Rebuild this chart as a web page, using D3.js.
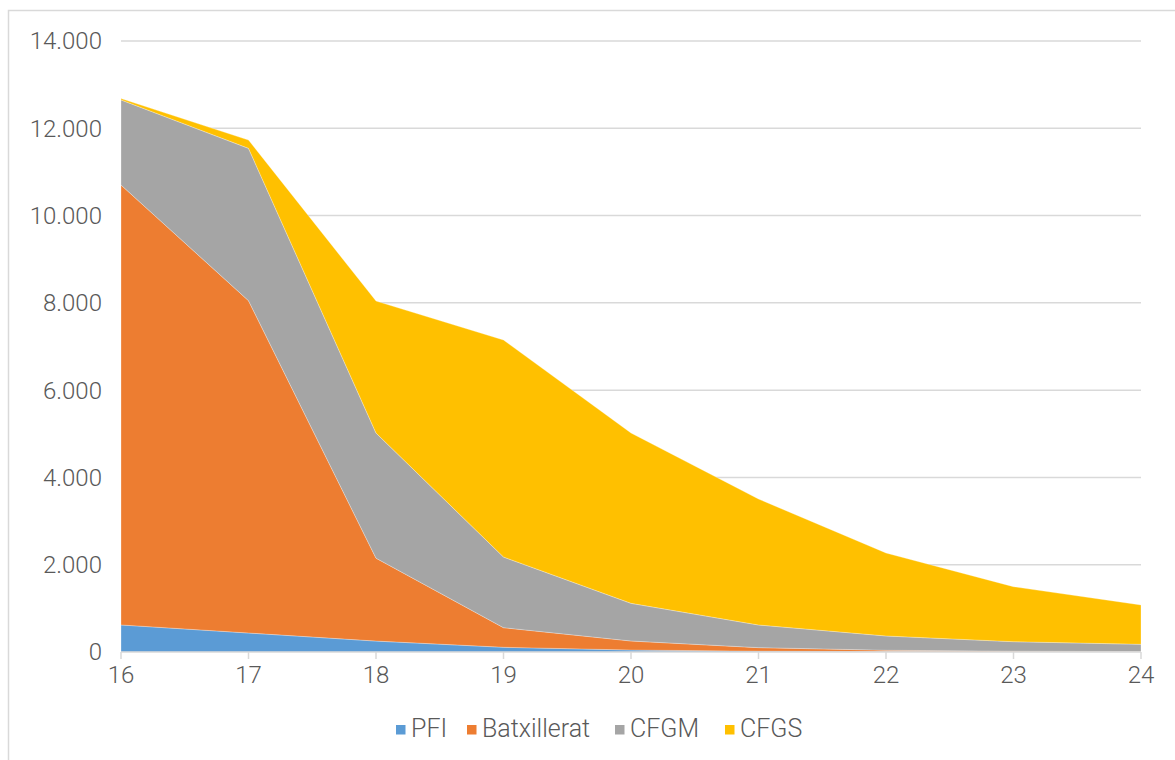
<!DOCTYPE html>
<html><head><meta charset="utf-8">
<script src="https://cdn.jsdelivr.net/npm/d3@7"></script>
<style>
html,body{margin:0;padding:0;background:#fff;}
svg{display:block;}
text{font-family:Roboto,"Liberation Sans",Arial,sans-serif;font-weight:300;fill:#595959;}
</style></head>
<body>
<svg id="chart" width="1175" height="760"></svg>
<script>
const ages = [16, 17, 18, 19, 20, 21, 22, 23, 24];
const seriesNames = ["PFI", "Batxillerat", "CFGM", "CFGS"];
const PFI = [620, 435, 250, 108, 45, 20, 10, 5, 5];
const Batxillerat = [10080, 7615, 1900, 449, 207, 80, 30, 15, 5];
const CFGM = [1950, 3490, 2867, 1619, 863, 519, 327, 216, 166];
const CFGS = [30, 190, 3025, 4972, 3902, 2886, 1901, 1260, 901];
const yTicks = [0, 2000, 4000, 6000, 8000, 10000, 12000, 14000];
const colors = ["#5B9BD5", "#ED7D31", "#A5A5A5", "#FFC000"];

const rows = ages.map((a, i) => ({age: a, PFI: PFI[i], Batxillerat: Batxillerat[i], CFGM: CFGM[i], CFGS: CFGS[i]}));
const svg = d3.select("#chart");

// outer border
svg.append("rect").attr("x", 8.5).attr("y", 10.5).attr("width", 1200).attr("height", 800)
  .attr("fill", "#fff").attr("stroke", "#d9d9d9").attr("stroke-width", 1.5);

const x = d3.scaleLinear().domain([16, 24]).range([121, 1141]);
const y = d3.scaleLinear().domain([0, 14000]).range([652, 41]);

const fmt = v => d3.format(",")(v).replace(/,/g, ".");

// gridlines
svg.append("g").selectAll("line").data(yTicks.filter(d => d > 0)).join("line")
  .attr("x1", x(16)).attr("x2", x(24)).attr("y1", d => y(d)).attr("y2", d => y(d))
  .attr("stroke", "#d9d9d9").attr("stroke-width", 1.5);

// y labels
svg.append("g").selectAll("text").data(yTicks).join("text")
  .attr("x", 102).attr("y", d => y(d)).attr("dy", "0.35em").attr("text-anchor", "end")
  .style("font-size", "24px").text(d => fmt(d));

// stacked areas
const stack = d3.stack().keys(seriesNames);
const layers = stack(rows);
const area = d3.area().x(d => x(d.data.age)).y0(d => y(d[0])).y1(d => y(d[1]));
svg.append("g").selectAll("path").data(layers).join("path")
  .attr("d", area).attr("fill", (d, i) => colors[i])
  .attr("stroke", "rgba(255,255,255,0.35)").attr("stroke-width", 0.8);

// x axis line and ticks
svg.append("line").attr("x1", x(16)).attr("x2", x(24)).attr("y1", y(0)).attr("y2", y(0))
  .attr("stroke", "#d9d9d9").attr("stroke-width", 1.5);
svg.append("g").selectAll("line").data(ages).join("line")
  .attr("x1", d => x(d)).attr("x2", d => x(d)).attr("y1", y(0)).attr("y2", y(0) + 7)
  .attr("stroke", "#d9d9d9").attr("stroke-width", 1.5);
svg.append("g").selectAll("text").data(ages).join("text")
  .attr("x", d => x(d)).attr("y", 683).attr("text-anchor", "middle")
  .style("font-size", "24px").text(d => d);

// legend
const legX = [396, 467, 615, 725];
const leg = svg.append("g").selectAll("g").data(seriesNames).join("g")
  .attr("transform", (d, i) => `translate(${legX[i]},0)`);
leg.append("rect").attr("x", 0).attr("y", 725).attr("width", 9.5).attr("height", 9.5)
  .attr("fill", (d, i) => colors[i]);
leg.append("text").attr("x", 15).attr("y", 737).style("font-size", "25px").text(d => d);
</script>
</body></html>
